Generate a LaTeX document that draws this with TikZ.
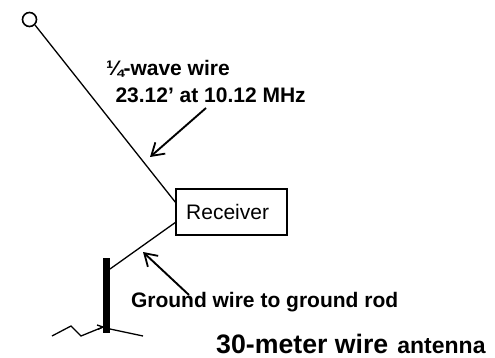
\documentclass[tikz,border=0pt]{standalone}
\usepackage{fontspec}
\usetikzlibrary{arrows.meta}
\setmainfont{Liberation Sans}
\begin{document}
\begin{tikzpicture}[x=1pt,y=-1pt,
  wire/.style={line width=1.3pt,black},
  pointer/.style={line width=1.9pt,black,-{Straight Barb[length=12pt,width=15pt,line width=1.8pt]}},
  lab/.style={anchor=base west,inner sep=0pt,outer sep=0pt,font=\bfseries\fontsize{21}{24}\selectfont},
  box/.style={draw,line width=1.4pt,minimum width=111pt,minimum height=46pt,inner sep=0pt}]
\useasboundingbox (0,0) rectangle (495,358);
\fill[white] (0,0) rectangle (495,358);
\node[circle,draw,line width=1.6pt,minimum size=14pt,inner sep=0pt] (top) at (29.5,19.5) {};
\node[box] (rx) at (231.5,212) {};
\node[anchor=base west,inner sep=0pt,font=\fontsize{21}{24}\selectfont] (rxt) at (186,219) {Receiver};
\coordinate (rxa) at (176,203);
\coordinate (rxb) at (176,222);
\node[fill=black,minimum width=7pt,minimum height=75pt,inner sep=0pt] (rod) at (106.5,295.5) {};
\coordinate (rodtop) at (110,269);
\coordinate (topw) at (35,25);
\draw[wire] (topw) -- (rxa);
\draw[wire] (rxb) -- (rodtop);
\node[lab] (l1) at (106,76) {¼-wave wire};
\node[lab] (l2) at (115.5,103) {23.12’ at 10.12 MHz};
\node[lab] (l3) at (131,307) {Ground wire to ground rod};
\node[anchor=base west,inner sep=0pt,font=\bfseries\fontsize{26.7}{30}\selectfont] (l4) at (216,353) {30-meter wire\hspace{9pt}{\fontsize{23}{24}\selectfont antenna}};
\coordinate (a1s) at (206,108);
\coordinate (a1e) at (150,157);
\coordinate (a2s) at (189,295);
\coordinate (a2e) at (143,252);
\draw[pointer] (a1s) -- (a1e);
\draw[pointer] (a2s) -- (a2e);
\coordinate (g1) at (52,336);
\coordinate (g2) at (71,326);
\coordinate (g3) at (81,336);
\coordinate (g4) at (103,327);
\coordinate (g5) at (110,329);
\coordinate (g6) at (143,336);
\coordinate (gb1) at (97,325);
\coordinate (gb2) at (98,329.5);
\draw[wire] (g1) -- (g2) -- (g3) -- (g4);
\draw[wire] (gb1) -- (g4) -- (gb2);
\draw[wire] (g5) -- (g6);
\end{tikzpicture}
\end{document}
